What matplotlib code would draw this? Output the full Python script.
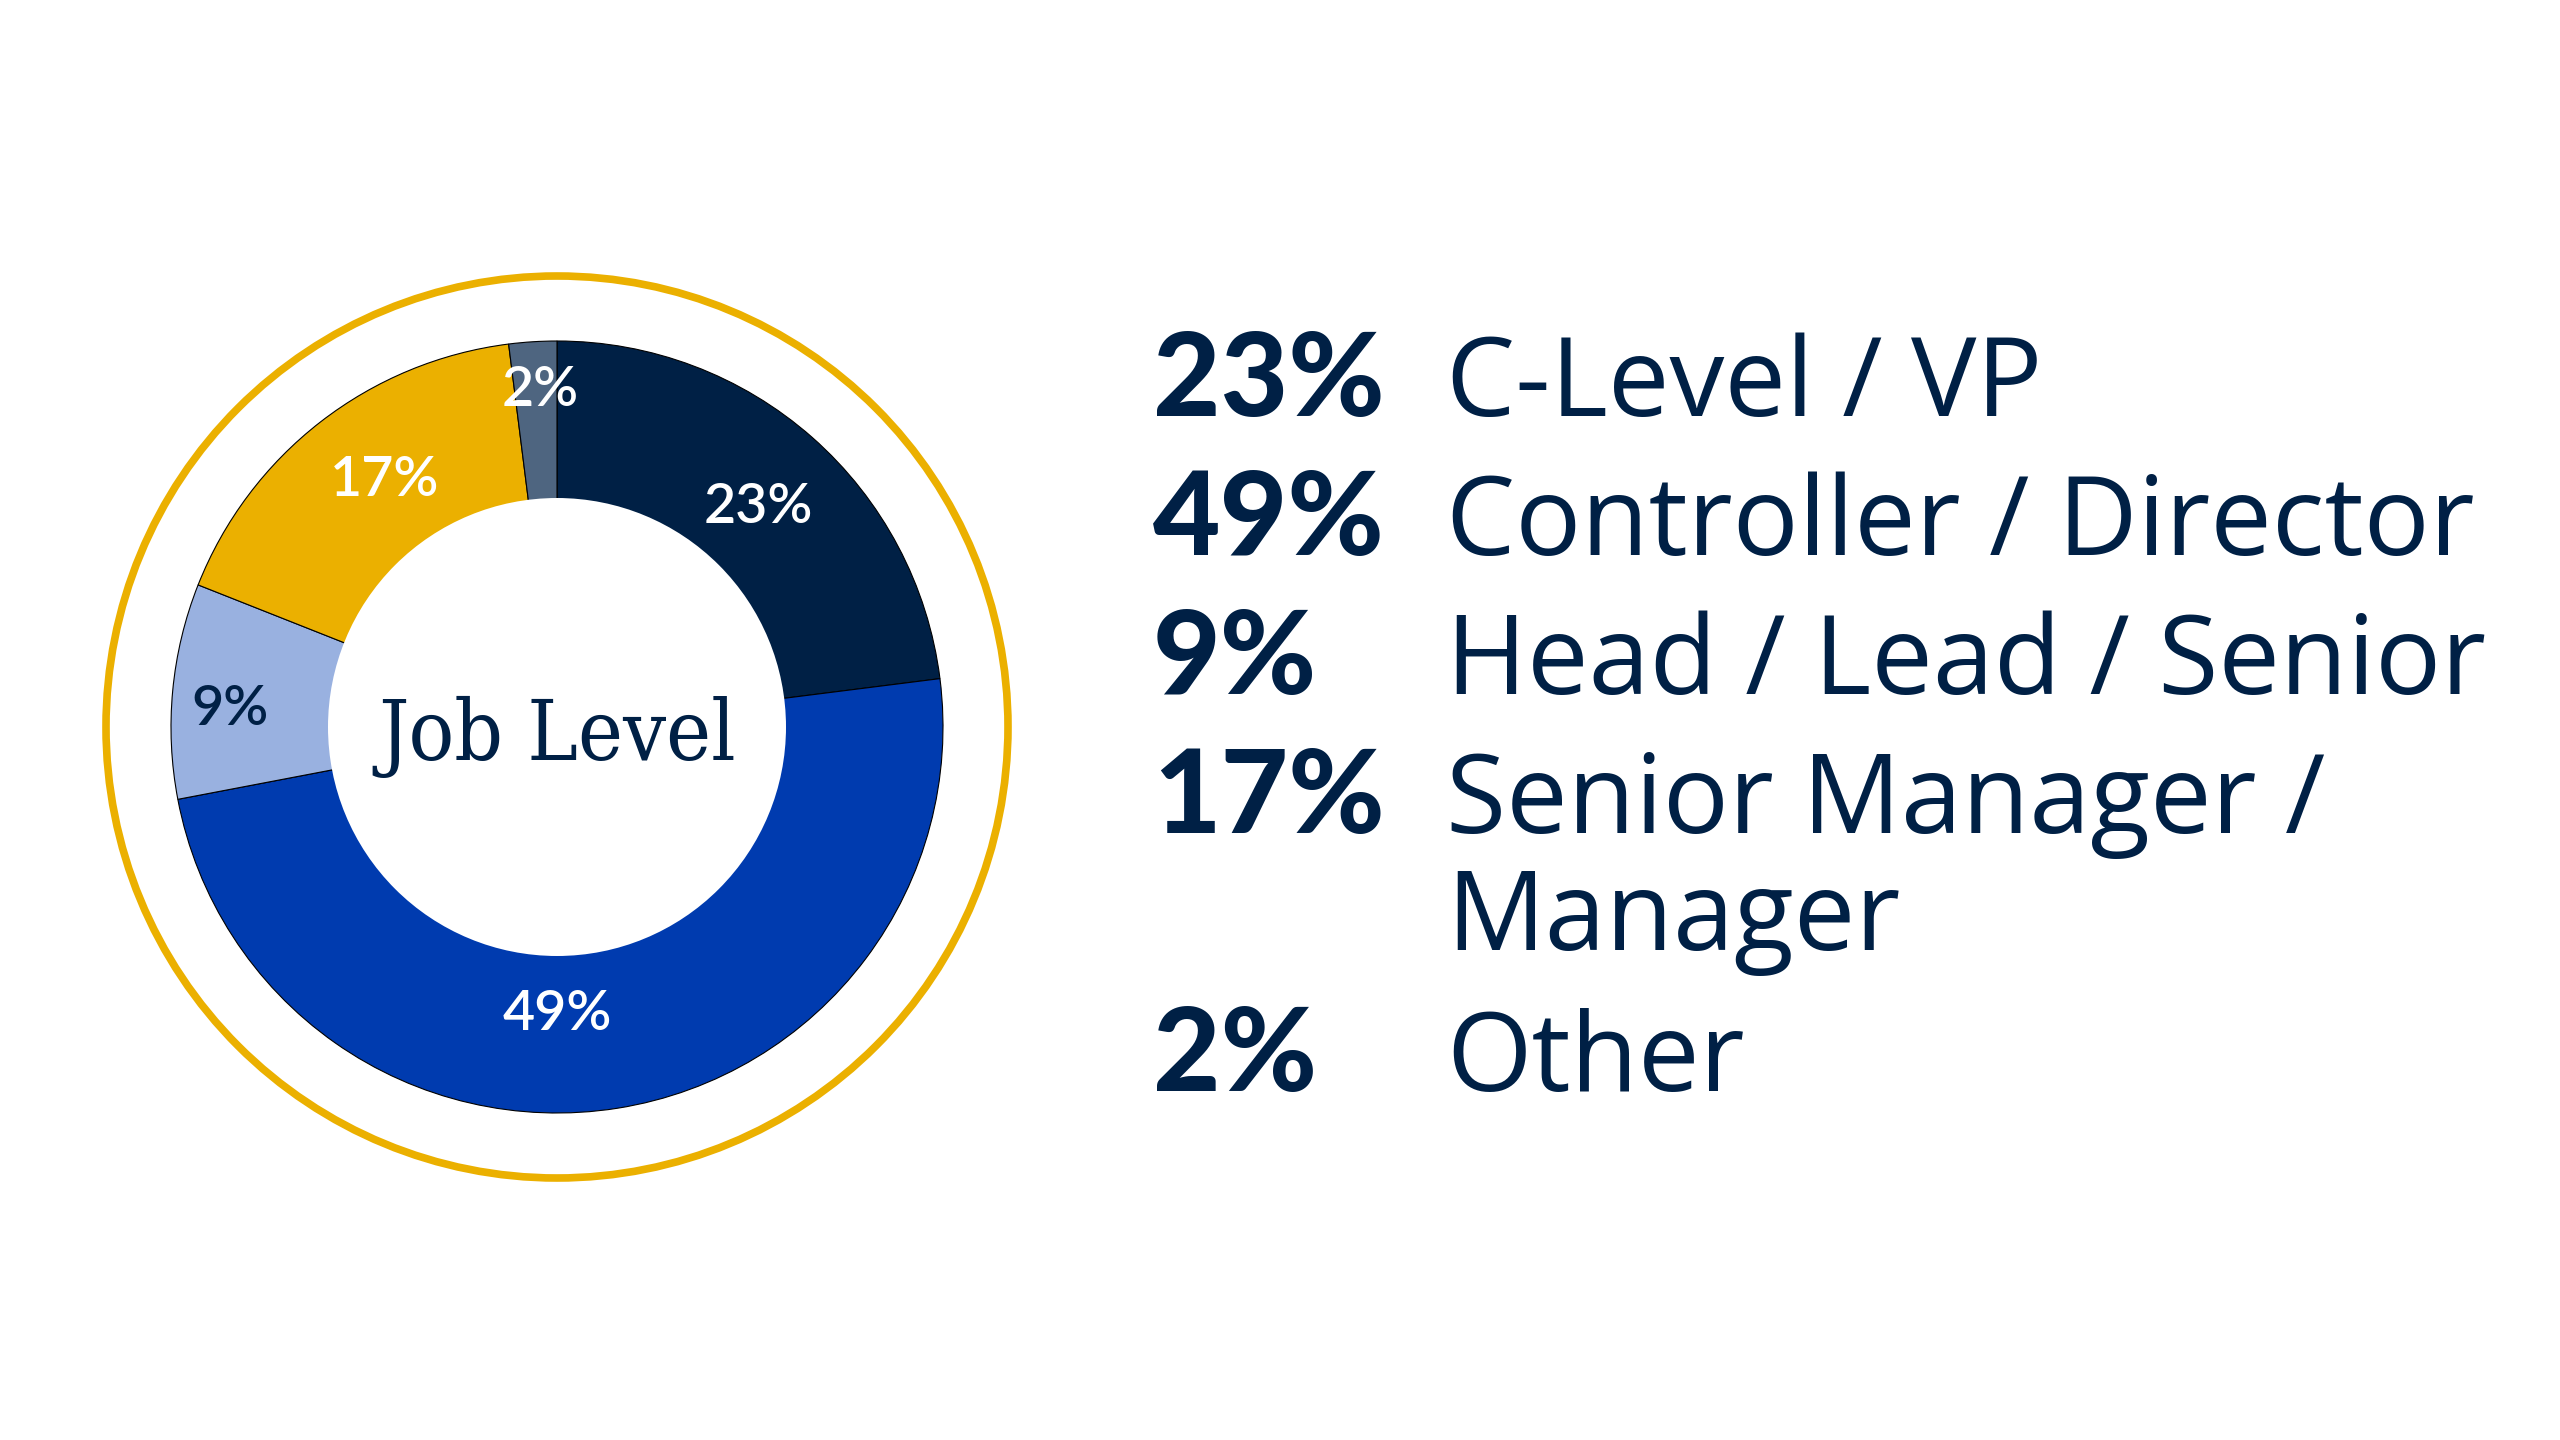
import matplotlib.pyplot as plt
from matplotlib.patches import Circle

# job level split, clockwise from 12 o'clock
levels = ["C-Level / VP", "Controller / Director", "Head / Lead / Senior",
          "Senior Manager /\nManager", "Other"]
shares = [23, 49, 9, 17, 2]
colors = ["#002045", "#003BAF", "#99B1E0", "#EBB000", "#4E6580"]
label_colors = ["white", "white", "#002045", "white", "white"]

NAVY = "#002045"
W, H = 2560, 1440

fig = plt.figure(figsize=(25.6, 14.4), dpi=100)
ax = fig.add_axes([0, 0, 1, 1])

cx, cy = 557, H - 727
r_out, r_in = 386, 229

wedges, _ = ax.pie(shares, colors=colors, startangle=90, counterclock=False,
                   center=(cx, cy), radius=r_out,
                   wedgeprops=dict(edgecolor="black", linewidth=0.8))
# pie() resets the limits, so set them afterwards
ax.set_xlim(0, W)
ax.set_ylim(0, H)
ax.set_aspect("equal")
ax.axis("off")

ax.add_patch(Circle((cx, cy), r_in, facecolor="white", edgecolor="none", zorder=3))
ax.add_patch(Circle((cx, cy), 451, fill=False, edgecolor="#EBB000", linewidth=5.5, zorder=3))

# percentage labels inside the ring
label_pos = [(758, 507), (557, 1014), (230, 709), (385, 480), (540, 390)]
for (x, y), s, c in zip(label_pos, shares, label_colors):
    ax.text(x, H - y, f"{s}%", ha="center", va="center", fontsize=40,
            family="Lato", fontweight="semibold", color=c, zorder=4)

ax.text(cx, H - 737, "Job Level", ha="center", va="center", fontsize=61,
        family="DejaVu Serif", fontstretch="condensed", color=NAVY, zorder=4)

# legend on the right
baselines = [416, 555, 694, 833, 1091]
for s, lab, yb in zip(shares, levels, baselines):
    ax.text(1153, H - yb, f"{s}%", ha="left", va="baseline", fontsize=84,
            family="Lato", fontweight="black", color=NAVY)
    ax.text(1446, H - yb, lab.split("\n")[0], ha="left", va="baseline",
            fontsize=79, family="Open Sans", color=NAVY)
    if "\n" in lab:
        ax.text(1446, H - yb - 117, lab.split("\n")[1], ha="left", va="baseline",
                fontsize=79, family="Open Sans", color=NAVY)

fig.savefig("out.png", dpi=100, facecolor="white")
